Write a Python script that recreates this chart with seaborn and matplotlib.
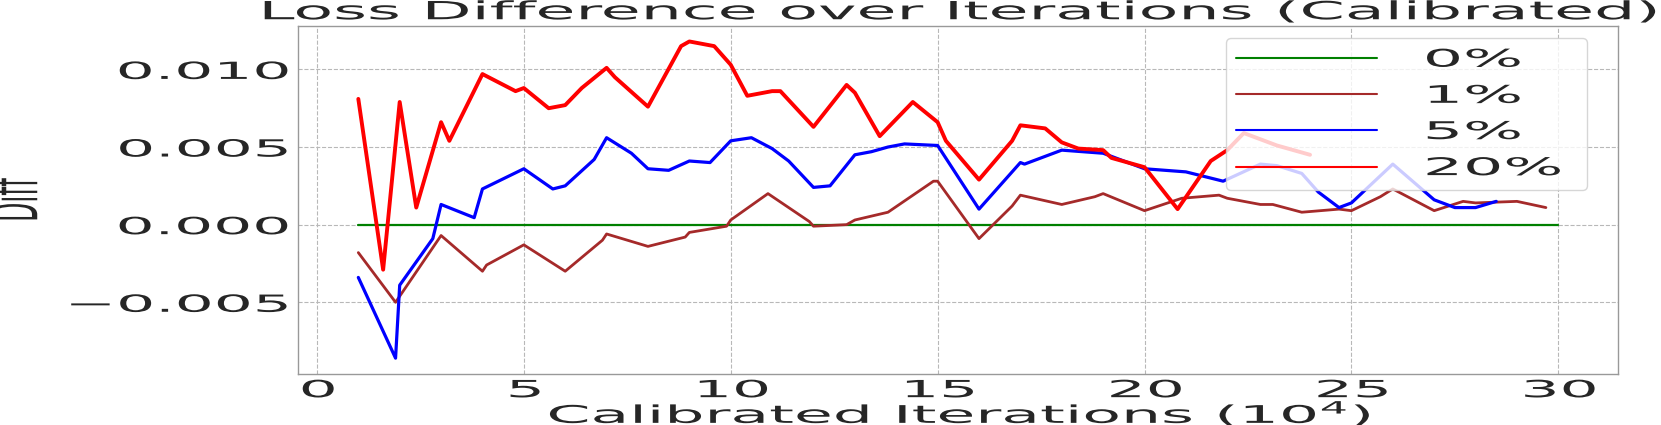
import matplotlib
matplotlib.use("Agg")
import matplotlib.pyplot as plt
import seaborn as sns
from matplotlib.patheffects import AbstractPathEffect
from matplotlib.transforms import Affine2D

# values, x in units of 1e4 iterations
iters_0 = [1, 30]
diff_0 = [0.0, 0.0]

iters_1 = [1, 1.9, 3, 4, 4.1, 5, 6, 6.9, 7, 8, 8.9, 9, 9.9, 10, 10.9, 11.9, 12, 12.8, 13, 13.8,
           14.9, 15, 16, 16.8, 17, 18, 18.8, 19, 20, 20.9, 21.8, 22, 22.8, 23.1, 23.8, 24.7, 25,
           25.7, 26, 27, 27.7, 28, 29, 29.7]
diff_1 = [-0.0018, -0.0050, -0.0007, -0.0030, -0.0026, -0.0013, -0.0030, -0.0010, -0.0006, -0.0014,
          -0.0008, -0.0005, -0.0001, 0.0003, 0.0020, 0.0002, -0.0001, 0.0000, 0.0003, 0.0008,
          0.0028, 0.0028, -0.0009, 0.0012, 0.0019, 0.0013, 0.0018, 0.0020, 0.0009, 0.0017,
          0.0019, 0.0017, 0.0013, 0.0013, 0.0008, 0.0010, 0.0009, 0.0018, 0.0023, 0.0009,
          0.0015, 0.0014, 0.0015, 0.0011]

iters_5 = [1, 1.9, 2, 2.8, 3, 3.8, 4, 5, 5.7, 6, 6.7, 7, 7.6, 8, 8.5, 9, 9.5, 10, 10.5, 11, 11.4,
           12, 12.4, 13, 13.4, 13.8, 14.2, 15, 16, 17, 17.1, 18, 19, 20, 21, 21.9, 22.8, 23.2,
           23.8, 24.2, 24.7, 25, 26, 27, 27.5, 28, 28.5]
diff_5 = [-0.0034, -0.0086, -0.0039, -0.0009, 0.0013, 0.00045, 0.0023, 0.0036, 0.0023, 0.0025,
          0.0042, 0.0056, 0.0046, 0.0036, 0.0035, 0.0041, 0.0040, 0.0054, 0.0056, 0.0049, 0.0041,
          0.0024, 0.0025, 0.0045, 0.0047, 0.0050, 0.0052, 0.0051, 0.0010, 0.0040, 0.0039,
          0.0048, 0.0046, 0.0036, 0.0034, 0.0028, 0.0039, 0.0038, 0.0033, 0.0021, 0.0011,
          0.0014, 0.0039, 0.0016, 0.0011, 0.0011, 0.0015]

iters_20 = [1, 1.6, 2, 2.4, 3, 3.2, 4, 4.8, 5, 5.6, 6, 6.4, 7, 7.2, 8, 8.8, 9, 9.6, 10, 10.4, 11,
            11.2, 12, 12.8, 13, 13.6, 14.4, 15, 15.2, 16, 16.8, 17, 17.6, 18, 18.4, 19, 19.2, 20,
            20.8, 21.6, 22, 22.4, 22.8, 23.2, 24]
diff_20 = [0.0081, -0.0029, 0.0079, 0.0011, 0.0066, 0.0054, 0.0097, 0.0086, 0.0088, 0.0075,
           0.0077, 0.0088, 0.0101, 0.0095, 0.0076, 0.0115, 0.0118, 0.0115, 0.0103, 0.0083,
           0.0086, 0.0086, 0.0063, 0.0090, 0.0085, 0.0057, 0.0079, 0.0066, 0.0054, 0.0029,
           0.0054, 0.0064, 0.0062, 0.0053, 0.0049, 0.0048, 0.0043, 0.0037, 0.0010, 0.0041,
           0.0048, 0.0059, 0.0055, 0.0051, 0.0045]

labels = ["0%", "1%", "5%", "20%"]
colors = ["green", "brown", "blue", "red"]


class Widen(AbstractPathEffect):
    # the reference text is drawn much wider than normal, stretch the glyph path
    def __init__(self, sx=2.6, sy=1.0, anchor="center"):
        super().__init__()
        self.sx, self.sy, self.anchor = sx, sy, anchor

    def draw_path(self, renderer, gc, tpath, affine, rgbFace=None):
        xmax = tpath.vertices[:, 0].max()
        c = {"left": 0.0, "center": xmax / 2, "right": xmax}[self.anchor]
        t = Affine2D().translate(-c, 0).scale(self.sx, self.sy).translate(c, 0)
        renderer.draw_path(gc, tpath, t + affine, rgbFace)


sns.set_style("whitegrid")
plt.rcParams["font.family"] = "DejaVu Sans"

fig = plt.figure(figsize=(16.61, 4.25), dpi=100)
ax = fig.add_axes([0.1796, 0.12, 0.7947, 0.8197])

sns.lineplot(x=iters_0, y=diff_0, ax=ax, color=colors[0], lw=1.6, label=labels[0])
sns.lineplot(x=iters_1, y=diff_1, ax=ax, color=colors[1], lw=2.0, label=labels[1])
sns.lineplot(x=iters_5, y=diff_5, ax=ax, color=colors[2], lw=2.3, label=labels[2])
sns.lineplot(x=iters_20, y=diff_20, ax=ax, color=colors[3], lw=2.8, label=labels[3])

ax.set_xticks(range(0, 31, 5))
ax.set_yticks([-0.005, 0.0, 0.005, 0.010])
ax.tick_params(labelsize=17, length=0)
ax.tick_params(axis="x", pad=3)
ax.tick_params(axis="y", pad=7)
ax.grid(True, ls="--", lw=0.8, color="#b8b8b8")
for s in ax.spines.values():
    s.set_color("0.6")
    s.set_linewidth(1.0)

ax.set_title("Loss Difference over Iterations (Calibrated)", fontsize=18, pad=4.6)
ax.set_xlabel("Calibrated Iterations ($10^4$)", fontsize=17.5)
ax.set_ylabel("Diff", fontsize=18)
ax.xaxis.set_label_coords(0.5, -0.1407)
ax.xaxis.label.set_va("baseline")
ax.yaxis.set_label_coords(-0.194, 0.5)

leg = ax.legend(loc="upper left", bbox_to_anchor=(0.7028, 0.0, 0.2735, 0.9647), mode="expand",
                borderaxespad=0, fontsize=17.5, handlelength=5.8, handletextpad=1.9)
for line in leg.get_lines():
    line.set_linewidth(1.5)

# stretch all the text like in the reference
ax.title.set_path_effects([Widen()])
ax.xaxis.label.set_path_effects([Widen()])
ax.yaxis.label.set_path_effects([Widen(sx=1.0, sy=2.6)])
for t in ax.get_xticklabels():
    t.set_path_effects([Widen()])
for t in ax.get_yticklabels():
    t.set_path_effects([Widen(anchor="right")])
for t in leg.get_texts():
    t.set_path_effects([Widen(anchor="left")])

fig.savefig("out.png", dpi=100)
